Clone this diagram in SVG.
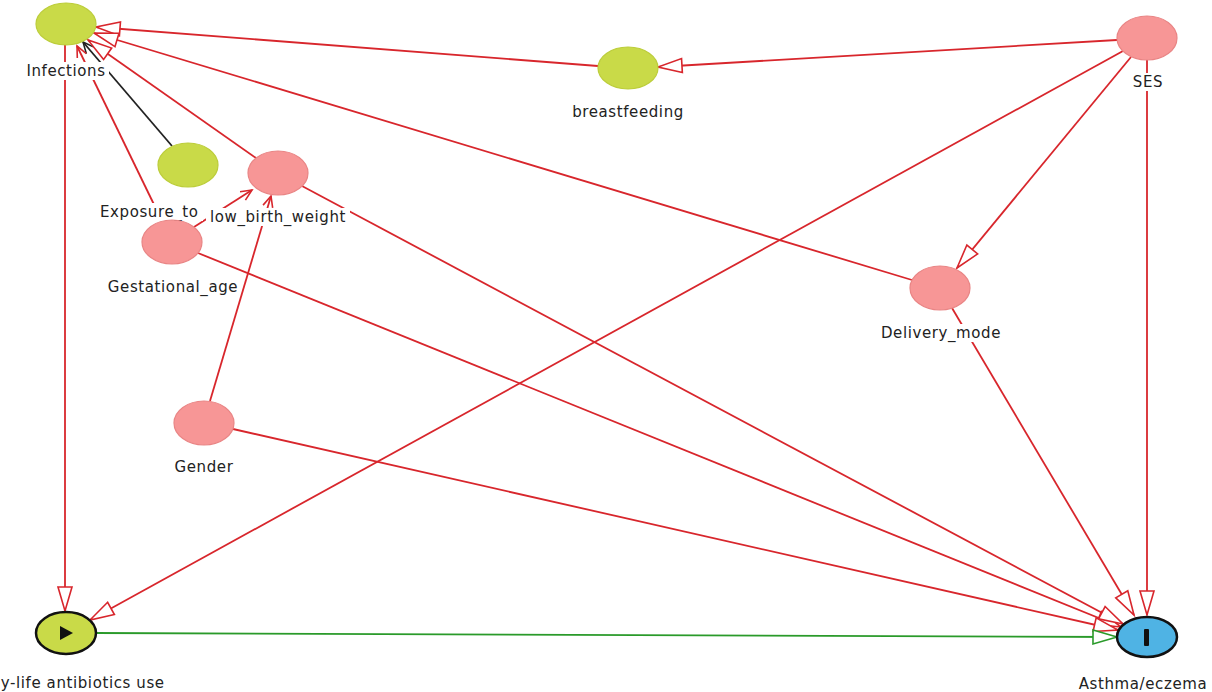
<svg xmlns="http://www.w3.org/2000/svg" width="1212" height="692" viewBox="0 0 1212 692">
<style>
.e{stroke:#d8262c;stroke-width:1.8;fill:none}
.g{stroke:#2a9a2a;stroke-width:1.8;fill:none}
.k{stroke:#222;stroke-width:1.8;fill:none}
.green{fill:#c9da48;stroke:#bccd3a;stroke-width:1.2}
.pink{fill:#f79696;stroke:#e98585;stroke-width:1.2}
.lbl{font-family:"DejaVu Sans",sans-serif;font-size:15px;fill:#222;letter-spacing:0.6px}
.bg{fill:#fff}
</style>
<defs>
<marker id="ar" markerUnits="userSpaceOnUse" markerWidth="28" markerHeight="18" refX="25" refY="8" orient="auto" overflow="visible">
<path d="M1,1 L25,8 L1,15 z" fill="#fff" stroke="#d8262c" stroke-width="1.6"/>
</marker>
<marker id="ag" markerUnits="userSpaceOnUse" markerWidth="28" markerHeight="18" refX="25" refY="8" orient="auto" overflow="visible">
<path d="M1,1 L25,8 L1,15 z" fill="#fff" stroke="#2a9a2a" stroke-width="1.6"/>
</marker>
<marker id="vr" markerUnits="userSpaceOnUse" markerWidth="14" markerHeight="12" refX="12" refY="6" orient="auto" overflow="visible">
<path d="M1,1 L12,6 L1,11" fill="none" stroke="#d8262c" stroke-width="1.6"/>
</marker>
<marker id="vk" markerUnits="userSpaceOnUse" markerWidth="14" markerHeight="12" refX="12" refY="6" orient="auto" overflow="visible">
<path d="M1,1 L12,6 L1,11" fill="none" stroke="#222" stroke-width="1.6"/>
</marker>
</defs>
<rect width="1212" height="692" fill="#fff"/>
<g id="connectors">
<line class="e" x1="598" y1="66" x2="96" y2="27" marker-end="url(#ar)"/>
<line class="e" x1="1117" y1="40" x2="658" y2="67" marker-end="url(#ar)"/>
<line class="e" x1="1123" y1="51" x2="90" y2="620" marker-end="url(#ar)"/>
<line class="e" x1="1131" y1="57" x2="957" y2="268" marker-end="url(#ar)"/>
<line class="e" x1="1147" y1="60" x2="1147" y2="615" marker-end="url(#ar)"/>
<line class="e" x1="912" y1="280" x2="94" y2="33" marker-end="url(#ar)"/>
<line class="e" x1="952" y1="308" x2="1134" y2="615" marker-end="url(#ar)"/>
<line class="k" x1="172" y1="146" x2="83" y2="42" marker-end="url(#vk)"/>
<line class="e" x1="256" y1="158" x2="88" y2="40" marker-end="url(#ar)"/>
<line class="e" x1="162" y1="221" x2="77" y2="46" marker-end="url(#vr)"/>
<line class="e" x1="194" y1="227" x2="252" y2="190" marker-end="url(#vr)"/>
<line class="e" x1="198" y1="253" x2="1121" y2="627" marker-end="url(#ar)"/>
<line class="e" x1="210" y1="401" x2="271" y2="196" marker-end="url(#vr)"/>
<line class="e" x1="302" y1="186" x2="1123" y2="624" marker-end="url(#ar)"/>
<line class="e" x1="233" y1="429" x2="1118" y2="630" marker-end="url(#ar)"/>
<line class="e" x1="65" y1="45" x2="65" y2="611" marker-end="url(#ar)"/>
<line class="g" x1="96" y1="633" x2="1117" y2="637" marker-end="url(#ag)"/>
</g>
<g id="infections">
<ellipse class="green" cx="66" cy="24" rx="30" ry="21"/>
<rect class="bg" x="25" y="62" width="84" height="18"/>
<text class="lbl" x="66" y="76" text-anchor="middle">Infections</text>
</g>
<g id="breastfeeding">
<ellipse class="green" cx="628" cy="68" rx="30" ry="21"/>
<rect class="bg" x="569" y="103" width="118" height="18"/>
<text class="lbl" x="628" y="117" text-anchor="middle">breastfeeding</text>
</g>
<g id="ses">
<ellipse class="pink" cx="1147" cy="38" rx="30" ry="22"/>
<rect class="bg" x="1131" y="73" width="34" height="18"/>
<text class="lbl" x="1148" y="87" text-anchor="middle">SES</text>
</g>
<g id="exposure">
<ellipse class="green" cx="188" cy="165" rx="30" ry="22"/>
<rect class="bg" x="99" y="203" width="104" height="18"/>
<text class="lbl" x="100" y="217">Exposure_to</text>
</g>
<g id="gestational_age">
<ellipse class="pink" cx="172" cy="242" rx="30" ry="22"/>
<rect class="bg" x="106" y="278" width="134" height="18"/>
<text class="lbl" x="173" y="292" text-anchor="middle">Gestational_age</text>
</g>
<g id="low_birth_weight">
<ellipse class="pink" cx="278" cy="173" rx="30" ry="22"/>
<rect class="bg" x="206" y="208" width="144" height="18"/>
<text class="lbl" x="278" y="222" text-anchor="middle">low_birth_weight</text>
</g>
<g id="delivery_mode">
<ellipse class="pink" cx="940" cy="288" rx="30" ry="22"/>
<rect class="bg" x="879" y="324" width="124" height="18"/>
<text class="lbl" x="941" y="338" text-anchor="middle">Delivery_mode</text>
</g>
<g id="gender">
<ellipse class="pink" cx="204" cy="423" rx="30" ry="22"/>
<rect class="bg" x="173" y="458" width="62" height="18"/>
<text class="lbl" x="204" y="472" text-anchor="middle">Gender</text>
</g>
<g id="early_life_antibiotics">
<ellipse cx="66" cy="633" rx="30" ry="21" fill="#c9da48" stroke="#111" stroke-width="2.5"/>
<path d="M60,626 L73,633 L60,640 z" fill="#111"/>
<text class="lbl" x="67" y="688" text-anchor="middle">Early-life antibiotics use</text>
</g>
<g id="asthma_eczema">
<ellipse cx="1147" cy="637" rx="30" ry="20" fill="#4fb3e4" stroke="#111" stroke-width="2.5"/>
<rect x="1144" y="629" width="5" height="17" rx="1" fill="#111"/>
<text class="lbl" x="1143" y="689" text-anchor="middle">Asthma/eczema</text>
</g>
</svg>
